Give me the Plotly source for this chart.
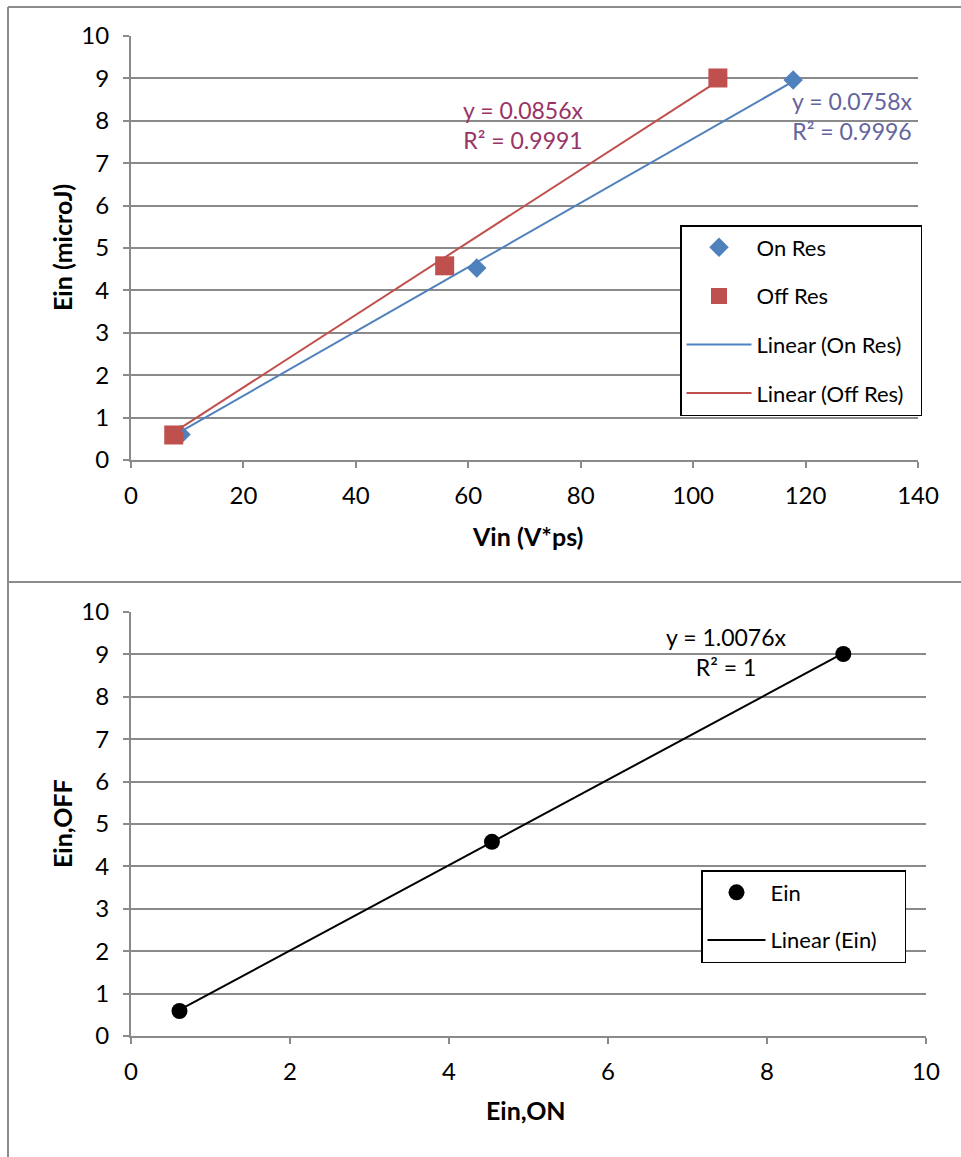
import plotly.graph_objects as go

# ---- data ----
on_res_vin = [8.9, 61.5, 117.8]
on_res_ein = [0.60, 4.53, 8.96]
off_res_vin = [7.6, 55.8, 104.4]
off_res_ein = [0.59, 4.58, 9.01]
on_slope = 0.0758
off_slope = 0.0856
ein_on = [0.61, 4.54, 8.96]
ein_off = [0.59, 4.58, 9.01]
ein_slope = 1.0076

W, H = 961, 1157
FONT = "Lato, 'Open Sans', sans-serif"
BLUE = "#4F81BD"
RED = "#C0504D"
GRID = "#8A8A8A"

def px_x(p):
    return p / W

def px_y(p):
    return 1 - p / H

fig = go.Figure()

# top chart
fig.add_trace(go.Scatter(x=on_res_vin, y=on_res_ein, mode="markers", name="On Res",
                         marker=dict(symbol="diamond", size=15, color=BLUE),
                         xaxis="x", yaxis="y", legend="legend", legendgroup="a", legendrank=1))
fig.add_trace(go.Scatter(x=off_res_vin, y=off_res_ein, mode="markers", name="Off Res",
                         marker=dict(symbol="square", size=19, color=RED),
                         xaxis="x", yaxis="y", legend="legend", legendgroup="b", legendrank=2))
on_fit_x = [min(on_res_vin), max(on_res_vin)]
off_fit_x = [min(off_res_vin), max(off_res_vin)]
fig.add_trace(go.Scatter(x=on_fit_x, y=[on_slope * v for v in on_fit_x], mode="lines",
                         name="Linear (On Res)", line=dict(color=BLUE, width=2),
                         xaxis="x", yaxis="y", legend="legend", legendgroup="c", legendrank=3))
fig.add_trace(go.Scatter(x=off_fit_x, y=[off_slope * v for v in off_fit_x], mode="lines",
                         name="Linear (Off Res)&nbsp;&nbsp;", line=dict(color=RED, width=2),
                         xaxis="x", yaxis="y", legend="legend", legendgroup="d", legendrank=4))

# bottom chart
fit_x = [min(ein_on), max(ein_on)]
fig.add_trace(go.Scatter(x=fit_x, y=[ein_slope * v for v in fit_x], mode="lines",
                         name="Linear (Ein)&nbsp;&nbsp;&nbsp;&nbsp;", line=dict(color="black", width=2),
                         xaxis="x2", yaxis="y2", legend="legend2", legendgroup="f", legendrank=2))
fig.add_trace(go.Scatter(x=ein_on, y=ein_off, mode="markers", name="Ein",
                         marker=dict(symbol="circle", size=16, color="black"),
                         xaxis="x2", yaxis="y2", legend="legend2", legendgroup="e", legendrank=1))

axis_common = dict(showline=True, linecolor=GRID, linewidth=2, ticks="outside",
                   tickcolor=GRID, ticklen=6, tickwidth=2, zeroline=False, automargin=False,
                   tickfont=dict(family=FONT, size=24, color="black"))

legend_common = dict(xanchor="left", yanchor="top", bordercolor="black", borderwidth=1.5,
                     bgcolor="white", font=dict(family=FONT, size=22, color="black"),
                     traceorder="grouped")

fig.update_layout(
    template="none",
    width=W, height=H,
    margin=dict(l=0, r=0, t=0, b=0, pad=0, autoexpand=False),
    paper_bgcolor="white", plot_bgcolor="white",
    font=dict(family=FONT, color="black"),
    hovermode=False,
    xaxis=dict(domain=[px_x(131), px_x(918)], range=[0, 140], dtick=20, showgrid=False,
               anchor="y", ticklabelstandoff=7, **axis_common),
    yaxis=dict(domain=[px_y(460), px_y(36)], range=[0, 10], dtick=1, showgrid=True,
               gridcolor=GRID, gridwidth=2, anchor="x", ticklabelstandoff=9, **axis_common),
    xaxis2=dict(domain=[px_x(131), px_x(926)], range=[0, 10], dtick=2, showgrid=False,
                anchor="y2", ticklabelstandoff=7, **axis_common),
    yaxis2=dict(domain=[px_y(1036), px_y(612)], range=[0, 10], dtick=1, showgrid=True,
                gridcolor=GRID, gridwidth=2, anchor="x2", ticklabelstandoff=9, **axis_common),
    legend=dict(x=px_x(680), y=px_y(225), tracegroupgap=17, itemwidth=65, **legend_common),
    legend2=dict(x=px_x(701), y=px_y(870), tracegroupgap=16, itemwidth=58, **legend_common),
    showlegend=True,
)

annots = [
    dict(text="<b>Ein (microJ)</b>", x=px_x(62), y=px_y(248), textangle=-90, size=25, color="black"),
    dict(text="<b>Vin (V*ps)</b>", x=px_x(527), y=px_y(536), textangle=0, size=25, color="black"),
    dict(text="<b>Ein,OFF</b>", x=px_x(62), y=px_y(824), textangle=-90, size=25, color="black"),
    dict(text="<b>Ein,ON</b>", x=px_x(526), y=px_y(1110), textangle=0, size=25, color="black"),
    dict(text="y = 0.0856x<br>R² = 0.9991", x=px_x(523), y=px_y(125), textangle=0, size=23, color="#993366"),
    dict(text="y = 0.0758x<br>R² = 0.9996", x=px_x(852), y=px_y(116), textangle=0, size=23, color="#64649E"),
    dict(text="y = 1.0076x<br>R² = 1", x=px_x(726), y=px_y(652), textangle=0, size=23, color="black"),
]
for a in annots:
    fig.add_annotation(text=a["text"], x=a["x"], y=a["y"], xref="paper", yref="paper",
                       xanchor="center", yanchor="middle", showarrow=False, textangle=a["textangle"],
                       font=dict(family=FONT, size=a["size"], color=a["color"]))

# outer frame lines (chart area borders)
border = dict(color="#8C8C8C", width=2)
fig.add_shape(type="line", xref="paper", yref="paper", x0=px_x(8), x1=1.0, y0=px_y(7), y1=px_y(7), line=border)
fig.add_shape(type="line", xref="paper", yref="paper", x0=px_x(8), x1=px_x(8), y0=px_y(7), y1=0, line=border)
fig.add_shape(type="line", xref="paper", yref="paper", x0=px_x(8), x1=1.0, y0=px_y(582), y1=px_y(582), line=border)

fig.write_html("out.html", config={"displayModeBar": False},
               post_script="document.body.style.margin='0px';document.body.style.overflow='hidden';")
